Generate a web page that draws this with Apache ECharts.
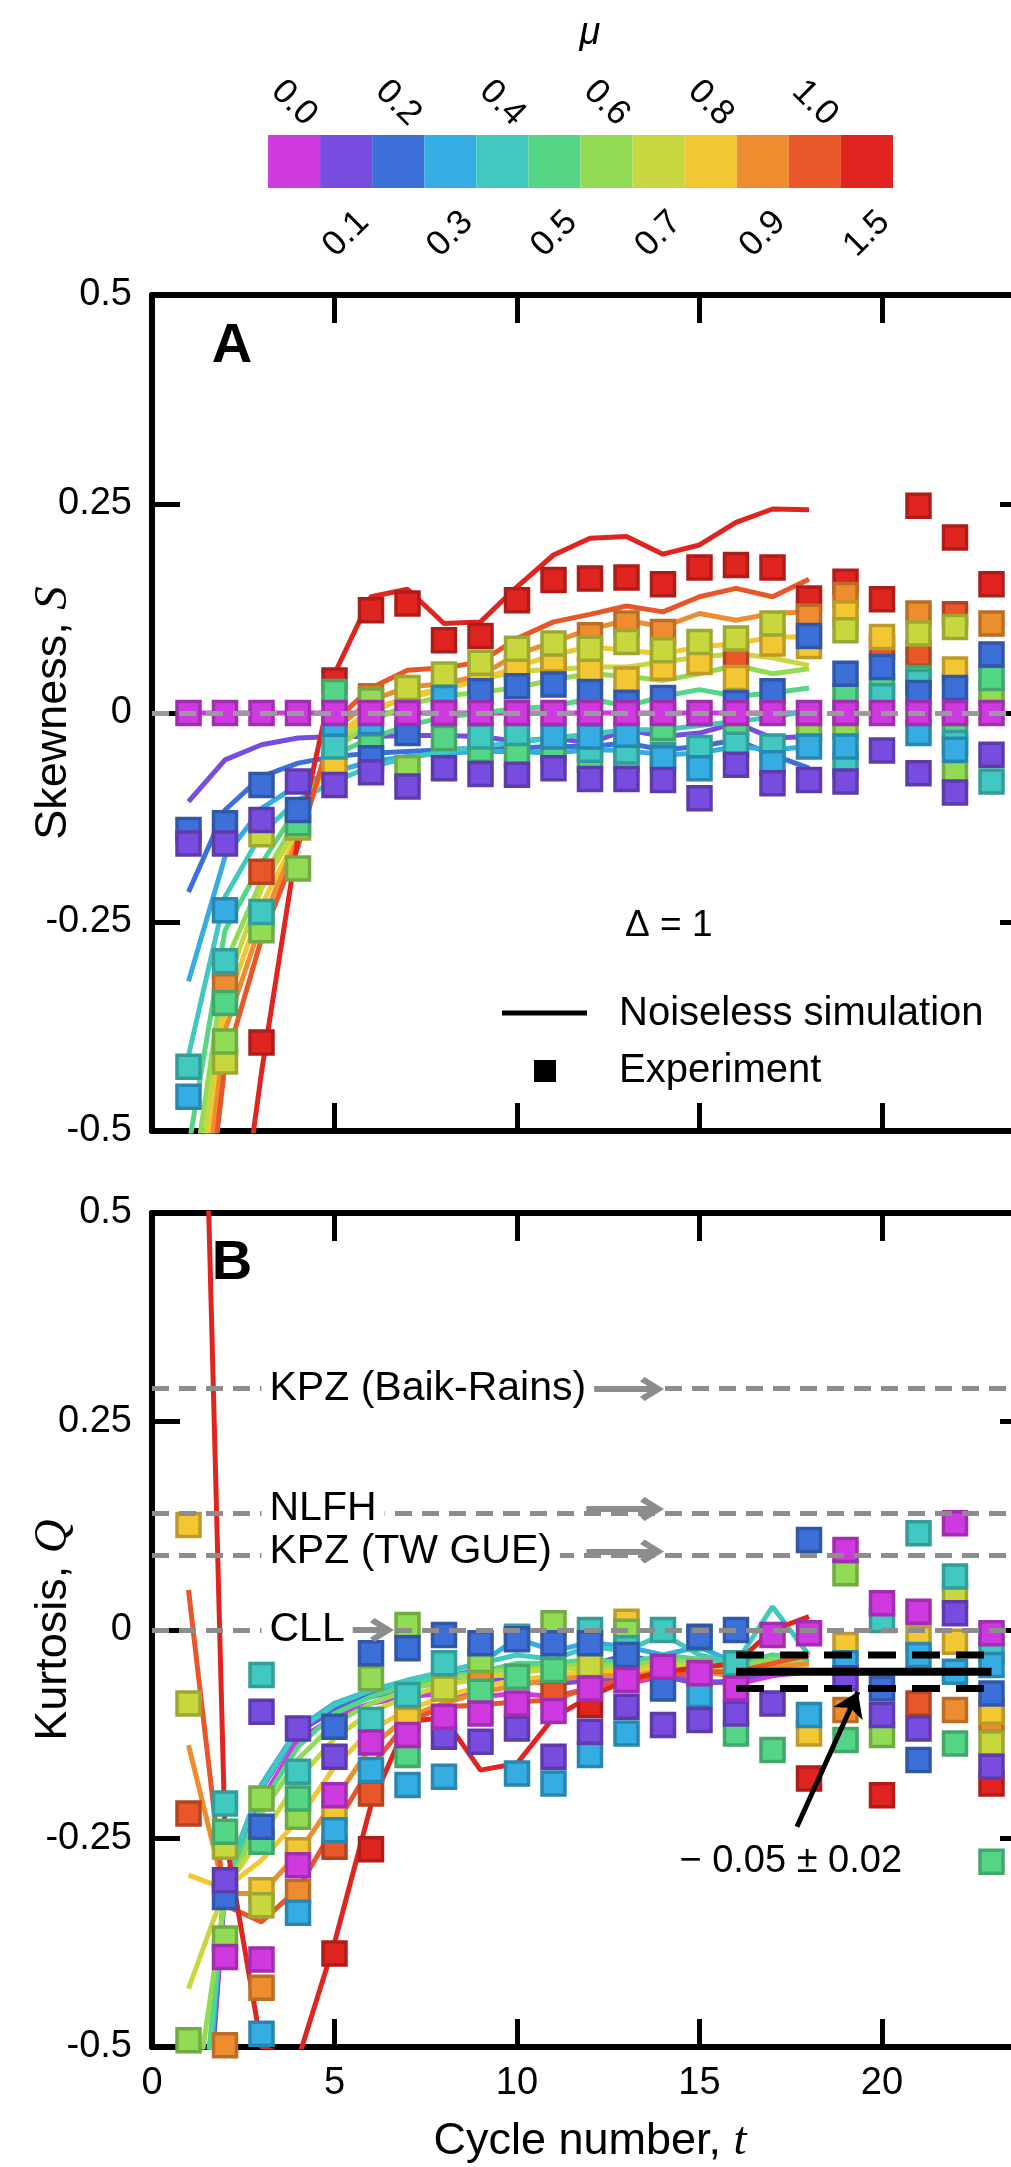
<!DOCTYPE html>
<html>
<head>
<meta charset="utf-8">
<script src="https://cdn.jsdelivr.net/npm/echarts/dist/echarts.min.js"></script>
<style>
  html, body { margin: 0; padding: 0; background: #fff; overflow: hidden; }
  #chart { width: 1011px; height: 2167px; }
</style>
</head>
<body>
<div id="chart"></div>
<script>
// cycle numbers
const cycles = [1,2,3,4,5,6,7,8,9,10,11,12,13,14,15,16,17,18,19,20,21,22,23];
const simCycles = [1,2,3,4,5,6,7,8,9,10,11,12,13,14,15,16,17,18];

// colour bar
const muLabels = ['0.0','0.1','0.2','0.3','0.4','0.5','0.6','0.7','0.8','0.9','1.0','1.5'];
const muColors = ['#CF3AE0','#774CDE','#3D6FD8','#35ACE2','#41C9C1','#55D686',
                  '#92DB55','#C8D73E','#F3C733','#EE8D30','#E8562A','#E02521'];

// A: skewness, noiseless simulation (t = 1..18)
const skewSim00 = [0,0,0,0,0,0,0,0,0,0,0,0,0,0,0,0,0,0];
const skewSim01 = [-0.106,-0.056,-0.038,-0.030,-0.028,-0.028,-0.027,-0.027,-0.028,-0.034,-0.030,-0.036,-0.020,-0.028,-0.024,-0.012,-0.030,-0.028];
const skewSim02 = [-0.214,-0.116,-0.076,-0.060,-0.052,-0.048,-0.046,-0.044,-0.042,-0.042,-0.040,-0.040,-0.036,-0.044,-0.040,-0.032,-0.050,-0.066];
const skewSim03 = [-0.321,-0.172,-0.114,-0.086,-0.070,-0.058,-0.052,-0.048,-0.046,-0.046,-0.048,-0.044,-0.045,-0.050,-0.048,-0.040,-0.044,-0.040];
const skewSim04 = [-0.410,-0.220,-0.144,-0.104,-0.082,-0.064,-0.054,-0.046,-0.040,-0.035,-0.030,-0.025,-0.020,-0.020,-0.015,-0.010,-0.005,0.003];
const skewSim05 = [-0.520,-0.260,-0.180,-0.112,-0.050,-0.030,-0.015,-0.005,0.000,0.005,0.008,0.017,0.008,0.020,0.028,0.020,0.024,0.030];
const skewSim06 = [-0.600,-0.300,-0.200,-0.125,-0.045,-0.010,0.010,0.020,0.025,0.030,0.040,0.047,0.044,0.039,0.047,0.057,0.047,0.053];
const skewSim07 = [-0.650,-0.330,-0.210,-0.135,-0.040,0.000,0.020,0.030,0.040,0.050,0.052,0.055,0.055,0.061,0.067,0.071,0.066,0.057];
const skewSim08 = [-0.700,-0.355,-0.230,-0.145,-0.030,0.005,0.018,0.028,0.040,0.055,0.070,0.079,0.075,0.071,0.079,0.083,0.091,0.091];
const skewSim09 = [-0.750,-0.380,-0.250,-0.150,-0.020,0.015,0.031,0.035,0.045,0.070,0.085,0.100,0.111,0.103,0.119,0.111,0.119,0.121];
const skewSim10 = [-0.800,-0.420,-0.270,-0.160,-0.010,0.030,0.051,0.054,0.061,0.089,0.109,0.118,0.128,0.121,0.139,0.149,0.139,0.160];
const skewSim11 = [-0.950,-0.750,-0.430,-0.150,0.047,0.139,0.148,0.107,0.109,0.151,0.189,0.209,0.211,0.190,0.201,0.228,0.244,0.243];

// A: skewness, experiment (t = 1..23)
const skewExp00 = [0,0,0,0,0,0,0,0,0,0,0,0,0,0,0,0,0,0,0,0,0,0,0];
const skewExp01 = [-0.156,-0.156,-0.128,-0.082,-0.086,-0.071,-0.088,-0.066,-0.073,-0.074,-0.066,-0.079,-0.079,-0.080,-0.102,-0.062,-0.084,-0.080,-0.082,-0.045,-0.072,-0.095,-0.050];
const skewExp02 = [-0.140,-0.132,-0.086,-0.116,null,-0.054,-0.024,null,0.026,0.032,0.034,0.025,0.012,0.018,null,0.012,0.026,0.092,0.047,0.055,0.024,0.030,0.070];
const skewExp03 = [-0.459,-0.236,null,null,-0.013,-0.011,null,0.018,null,null,-0.028,-0.028,-0.026,-0.054,-0.066,null,-0.060,-0.040,-0.040,null,-0.024,-0.044,null];
const skewExp04 = [-0.423,-0.297,-0.238,null,-0.040,null,null,null,-0.028,-0.024,null,-0.044,-0.046,-0.050,-0.042,-0.038,-0.040,null,-0.062,0.020,0.037,-0.036,-0.082];
const skewExp05 = [null,-0.347,null,-0.132,0.025,-0.040,null,-0.030,-0.044,-0.050,-0.044,-0.056,-0.056,-0.018,null,-0.020,null,null,0.020,0.032,0.042,-0.018,0.042];
const skewExp06 = [null,-0.393,-0.260,-0.186,null,0.015,-0.066,null,null,null,null,null,null,null,null,null,null,-0.018,-0.015,null,null,-0.072,0.024];
const skewExp07 = [null,-0.417,-0.145,-0.137,null,null,0.030,0.046,0.060,0.077,0.083,0.077,0.085,0.075,0.085,0.089,0.107,null,0.099,null,0.095,0.103,null];
const skewExp08 = [null,null,null,null,-0.062,null,null,null,0.040,0.054,0.064,0.052,0.040,0.054,0.061,0.042,0.083,0.080,0.119,0.091,null,0.052,null];
const skewExp09 = [null,-0.327,null,null,null,0.020,null,0.022,null,null,null,0.093,0.107,0.097,null,null,null,0.115,0.141,null,0.119,null,0.107];
const skewExp10 = [null,null,-0.190,null,null,null,null,null,null,null,0.057,null,null,null,null,0.067,null,null,null,0.079,0.071,0.118,null];
const skewExp11 = [null,null,-0.394,null,0.039,0.123,0.131,0.087,0.092,0.135,0.159,0.161,0.162,0.154,0.174,0.177,0.174,0.137,0.157,0.136,0.248,0.210,0.154];

// B: kurtosis, noiseless simulation (t = 1..18)
const kurtSim00 = [-0.900,-0.310,-0.204,-0.132,-0.104,-0.088,-0.080,-0.076,-0.080,-0.076,-0.080,-0.070,-0.065,-0.055,-0.060,-0.065,-0.055,-0.050];
const kurtSim01 = [-0.900,-0.300,-0.190,-0.122,-0.096,-0.080,-0.070,-0.062,-0.060,-0.060,-0.065,-0.060,-0.058,-0.055,-0.065,-0.060,-0.050,-0.050];
const kurtSim02 = [-0.850,-0.300,-0.188,-0.120,-0.092,-0.076,-0.066,-0.056,-0.048,-0.044,-0.046,-0.042,-0.030,-0.040,-0.035,-0.050,-0.040,-0.045];
const kurtSim03 = [-0.850,-0.300,-0.185,-0.118,-0.088,-0.072,-0.062,-0.050,-0.040,-0.010,-0.025,-0.015,-0.020,-0.030,-0.020,-0.040,-0.030,-0.035];
const kurtSim04 = [-0.800,-0.300,-0.188,-0.120,-0.090,-0.072,-0.060,-0.050,-0.040,-0.030,-0.035,-0.020,-0.025,-0.005,-0.030,-0.040,0.028,-0.030];
const kurtSim05 = [-0.750,-0.310,-0.210,-0.140,-0.100,-0.080,-0.066,-0.056,-0.050,-0.040,-0.040,-0.035,-0.040,-0.030,-0.035,-0.045,-0.030,-0.040];
const kurtSim06 = [-0.620,-0.320,-0.220,-0.155,-0.112,-0.088,-0.072,-0.060,-0.052,-0.046,-0.045,-0.040,-0.045,-0.035,-0.040,-0.045,-0.035,-0.040];
const kurtSim07 = [-0.430,-0.310,-0.248,-0.180,-0.130,-0.098,-0.080,-0.066,-0.058,-0.050,-0.048,-0.045,-0.050,-0.040,-0.045,-0.050,-0.040,-0.045];
const kurtSim08 = [-0.294,-0.310,-0.276,-0.228,-0.164,-0.120,-0.096,-0.080,-0.068,-0.060,-0.055,-0.050,-0.052,-0.045,-0.050,-0.055,-0.045,-0.045];
const kurtSim09 = [-0.138,-0.316,-0.316,-0.268,-0.204,-0.140,-0.104,-0.088,-0.075,-0.066,-0.060,-0.055,-0.055,-0.050,-0.050,-0.055,-0.045,-0.040];
const kurtSim10 = [0.048,-0.330,-0.350,-0.310,-0.236,-0.164,-0.110,-0.092,-0.090,-0.086,-0.084,-0.068,-0.060,-0.055,-0.050,-0.050,-0.040,-0.030];
const kurtSim11 = [1.430,-0.245,-0.500,-0.515,-0.375,-0.210,-0.110,-0.105,-0.168,-0.160,-0.105,-0.080,-0.060,-0.050,-0.045,-0.040,0.000,0.016];

// B: kurtosis, experiment (t = 1..23)
const kurtExp00 = [null,-0.392,-0.395,-0.282,-0.198,-0.135,-0.126,-0.104,-0.100,-0.088,-0.097,-0.070,-0.060,-0.044,-0.052,-0.070,-0.006,-0.004,0.096,0.032,0.022,0.128,-0.004];
const kurtExp01 = [null,-0.300,-0.098,-0.118,-0.152,null,null,-0.128,-0.134,-0.118,-0.152,-0.122,-0.092,-0.114,-0.108,-0.100,-0.088,null,-0.058,-0.102,-0.118,0.020,-0.164];
const kurtExp02 = [null,-0.320,-0.236,null,-0.116,-0.028,-0.022,-0.006,-0.016,-0.011,-0.016,-0.016,-0.030,-0.070,-0.008,0.000,null,0.108,null,-0.070,-0.156,null,-0.076];
const kurtExp03 = [null,null,-0.484,-0.339,-0.240,-0.168,-0.186,-0.176,null,-0.172,-0.184,-0.150,-0.124,null,-0.078,null,null,-0.102,-0.040,null,-0.030,-0.050,-0.042];
const kurtExp04 = [null,-0.208,-0.054,-0.170,null,-0.108,-0.078,-0.040,null,-0.008,null,0.000,-0.022,0.000,-0.010,-0.040,null,null,null,0.012,0.116,0.064,-0.024];
const kurtExp05 = [null,-0.242,-0.254,-0.202,null,null,-0.150,null,-0.074,-0.056,-0.048,null,null,null,null,-0.124,-0.144,null,-0.132,null,null,-0.136,-0.278];
const kurtExp06 = [-0.492,-0.370,-0.202,-0.224,null,-0.058,0.006,null,-0.036,null,0.008,null,-0.002,null,null,null,null,null,0.068,-0.126,null,null,null];
const kurtExp07 = [-0.088,-0.260,-0.330,null,null,null,null,-0.070,null,null,null,-0.042,null,null,null,null,null,null,null,null,null,0.042,-0.136];
const kurtExp08 = [0.126,null,-0.312,-0.264,-0.220,null,-0.108,null,null,null,null,null,0.010,null,-0.050,null,null,-0.124,-0.018,null,-0.010,-0.014,-0.098];
const kurtExp09 = [null,-0.498,-0.429,-0.314,null,null,-0.100,null,-0.052,null,null,null,null,null,null,null,null,null,-0.096,null,null,-0.096,-0.108];
const kurtExp10 = [-0.220,null,null,null,-0.260,-0.196,null,null,null,null,-0.076,null,null,null,null,null,null,null,null,null,-0.088,null,null];
const kurtExp11 = [null,null,null,null,-0.388,-0.263,null,null,null,null,null,-0.090,null,null,null,null,null,-0.178,null,-0.198,null,null,-0.184];

// reference kurtosis values (B)
const refNames = ['KPZ (Baik-Rains)', 'NLFH', 'KPZ (TW GUE)', 'CLL'];
const refValues = [0.289, 0.145, 0.094, 0];
const refArrowFrom = [11.9, 11.9, 11.9, 5.3];
const refArrowTo = [13.7, 13.7, 13.7, 6.3];

// fitted late-time kurtosis
const kurtMean = -0.05;
const kurtErr = 0.02;
const kurtWindow = [16, 23];
const kurtArrowTail = [17.67, -0.236];
const kurtArrowHead = [19.34, -0.074];

const skewSim = [skewSim00,skewSim01,skewSim02,skewSim03,skewSim04,skewSim05,skewSim06,skewSim07,skewSim08,skewSim09,skewSim10,skewSim11];
const skewExp = [skewExp00,skewExp01,skewExp02,skewExp03,skewExp04,skewExp05,skewExp06,skewExp07,skewExp08,skewExp09,skewExp10,skewExp11];
const kurtSim = [kurtSim00,kurtSim01,kurtSim02,kurtSim03,kurtSim04,kurtSim05,kurtSim06,kurtSim07,kurtSim08,kurtSim09,kurtSim10,kurtSim11];
const kurtExp = [kurtExp00,kurtExp01,kurtExp02,kurtExp03,kurtExp04,kurtExp05,kurtExp06,kurtExp07,kurtExp08,kurtExp09,kurtExp10,kurtExp11];

const FONT = '"Liberation Sans", Arial, sans-serif';
const TICK_FS = 38;

function darker(hex, f) {
  const n = parseInt(hex.slice(1), 16);
  const r = Math.round(((n >> 16) & 255) * f);
  const g = Math.round(((n >> 8) & 255) * f);
  const b = Math.round((n & 255) * f);
  return 'rgb(' + r + ',' + g + ',' + b + ')';
}

function pairs(xs, ys) {
  const out = [];
  ys.forEach((v, j) => { if (v !== null) out.push([xs[j], v]); });
  return out;
}

function xFrame(grid, position, labels) {
  return {
    type: 'value', gridIndex: grid, position: position, min: 0, max: 24, interval: 5,
    axisLine: {show: true, onZero: false, lineStyle: {color: '#000', width: 6}},
    axisTick: {show: true, inside: true, length: 28, lineStyle: {color: '#000', width: 5}},
    axisLabel: {show: labels, margin: 18, fontSize: TICK_FS, color: '#000', fontFamily: FONT,
      formatter: v => (v % 5 === 0 ? String(v) : '')},
    splitLine: {show: false}
  };
}

function yFrame(grid, position, labels) {
  return {
    type: 'value', gridIndex: grid, position: position, min: -0.5, max: 0.5, interval: 0.25,
    axisLine: {show: true, onZero: false, lineStyle: {color: '#000', width: 6}},
    axisTick: {show: true, inside: true, length: 28, lineStyle: {color: '#000', width: 5}},
    axisLabel: {show: labels, margin: 20, fontSize: TICK_FS, color: '#000', fontFamily: FONT},
    splitLine: {show: false}
  };
}

const nameStyle = {
  fontSize: 45, color: '#000', fontFamily: FONT,
  rich: {i: {fontSize: 47, fontStyle: 'italic', fontFamily: '"Liberation Serif", serif', color: '#000'}}
};

const xAxes = [
  // colour bar, bottom labels (odd)
  {type: 'category', gridIndex: 0, position: 'bottom', data: muLabels,
    axisLine: {show: false}, axisTick: {show: false},
    axisLabel: {interval: 0, rotate: 45, align: 'center', verticalAlign: 'middle', margin: 46,
      fontSize: 35, color: '#000', fontFamily: FONT,
      formatter: (v, idx) => (idx % 2 === 1 ? v : '')}},
  // colour bar, top labels (even)
  {type: 'category', gridIndex: 0, position: 'top', data: muLabels,
    axisLine: {show: false}, axisTick: {show: false},
    axisLabel: {interval: 0, rotate: 45, align: 'center', verticalAlign: 'middle', margin: 32,
      fontSize: 35, color: '#000', fontFamily: FONT,
      formatter: (v, idx) => (idx % 2 === 0 ? v : '')}},
  xFrame(1, 'bottom', false),
  xFrame(1, 'top', false),
  Object.assign(xFrame(2, 'bottom', true), {
    name: 'Cycle number, {i|t}', nameLocation: 'middle', nameGap: 71, nameMoveOverlap: false,
    nameTextStyle: nameStyle
  }),
  xFrame(2, 'top', false)
];

const yAxes = [
  {type: 'value', gridIndex: 0, min: 0, max: 1, show: false},
  Object.assign(yFrame(1, 'left', true), {
    name: 'Skewness, {i|S}', nameLocation: 'middle', nameRotate: 90, nameGap: 75, nameMoveOverlap: false,
    nameTextStyle: nameStyle
  }),
  yFrame(1, 'right', false),
  Object.assign(yFrame(2, 'left', true), {
    name: 'Kurtosis, {i|Q}', nameLocation: 'middle', nameRotate: 90, nameGap: 75, nameMoveOverlap: false,
    nameTextStyle: nameStyle
  }),
  yFrame(2, 'right', false)
];

const series = [];

// colour bar cells
series.push({
  type: 'bar', xAxisIndex: 0, yAxisIndex: 0, barCategoryGap: '0%', silent: true,
  data: muLabels.map((m, i) => ({value: 1, itemStyle: {color: muColors[i]}}))
});

// grey reference lines
series.push({
  type: 'line', xAxisIndex: 2, yAxisIndex: 1, data: [], z: 1, silent: true,
  markLine: {symbol: 'none', silent: true, animation: false, label: {show: false},
    lineStyle: {color: '#9a9a9a', width: 5, type: [17, 10]},
    data: [{yAxis: 0}]}
});
series.push({
  type: 'line', xAxisIndex: 4, yAxisIndex: 3, data: [], z: 1, silent: true,
  markLine: {symbol: 'none', silent: true, animation: false, label: {show: false},
    lineStyle: {color: '#8c8c8c', width: 5, type: [17, 10]},
    data: refValues.map(v => ({yAxis: v}))}
});
series.push({
  type: 'line', xAxisIndex: 4, yAxisIndex: 3, data: [], z: 1, silent: true,
  markLine: {symbol: ['none', 'path://M5,0 L10,7 L8.2,8.6 L5,4.2 L1.8,8.6 L0,7 Z'], symbolSize: 24,
    silent: true, animation: false, label: {show: false},
    lineStyle: {color: '#8c8c8c', width: 6, type: 'solid'},
    data: refValues.map((v, k) => [{coord: [refArrowFrom[k], v]}, {coord: [refArrowTo[k], v]}])}
});

// simulation lines
muColors.forEach((c, i) => {
  series.push({type: 'line', xAxisIndex: 2, yAxisIndex: 1, data: pairs(simCycles, skewSim[i]),
    symbol: 'none', z: 2, lineStyle: {color: c, width: 5}});
  series.push({type: 'line', xAxisIndex: 4, yAxisIndex: 3, data: pairs(simCycles, kurtSim[i]),
    symbol: 'none', z: 2, lineStyle: {color: c, width: 5}});
});

// experiment squares, mu = 1.5 first so mu = 0 ends on top
for (let i = muColors.length - 1; i >= 0; i--) {
  const sq = {color: muColors[i], borderColor: darker(muColors[i], 0.78), borderWidth: 3.5, opacity: 1};
  series.push({type: 'scatter', xAxisIndex: 2, yAxisIndex: 1, data: pairs(cycles, skewExp[i]),
    symbol: 'rect', symbolSize: 23, z: 3, itemStyle: sq});
  series.push({type: 'scatter', xAxisIndex: 4, yAxisIndex: 3, data: pairs(cycles, kurtExp[i]),
    symbol: 'rect', symbolSize: 23, z: 3, itemStyle: sq});
}

// -0.05 +/- 0.02 band
series.push({type: 'line', xAxisIndex: 4, yAxisIndex: 3, z: 5, symbol: 'none',
  data: [[kurtWindow[0], kurtMean], [kurtWindow[1], kurtMean]],
  lineStyle: {color: '#000', width: 8},
  markLine: {symbol: ['none', 'arrow'], symbolSize: 24, silent: true, animation: false, label: {show: false},
    lineStyle: {color: '#000', width: 5, type: 'solid'},
    data: [[{coord: kurtArrowTail}, {coord: kurtArrowHead}]]}});
[kurtMean + kurtErr, kurtMean - kurtErr].forEach(v => {
  series.push({type: 'line', xAxisIndex: 4, yAxisIndex: 3, z: 5, symbol: 'none',
    data: [[kurtWindow[0], v], [kurtWindow[1], v]],
    lineStyle: {color: '#000', width: 7, type: [28, 16]}});
});

const option = {
  animation: false,
  backgroundColor: '#fff',
  textStyle: {fontFamily: FONT},
  grid: [
    {left: 268, top: 135, width: 625, height: 53, containLabel: false, outerBoundsMode: 'none'},
    {left: 152, top: 295, width: 876, height: 836, containLabel: false, outerBoundsMode: 'none'},
    {left: 152, top: 1213, width: 876, height: 834, containLabel: false, outerBoundsMode: 'none'}
  ],
  xAxis: xAxes,
  yAxis: yAxes,
  series: series
};

const chart = echarts.init(document.getElementById('chart'));
chart.setOption(option);

// texts placed against the data scale of panel B
const toB = (t, v) => chart.convertToPixel({xAxisIndex: 4, yAxisIndex: 3}, [t, v]);
const labelLeft = toB(3, 0)[0];
const graphics = [
  {type: 'text', z: 10, style: {text: 'μ', x: 590, y: 33, font: 'italic 38px ' + FONT, fill: '#000', textAlign: 'center', textVerticalAlign: 'middle'}},
  {type: 'text', z: 10, style: {text: 'A', x: 232, y: 347, font: 'bold 56px ' + FONT, fill: '#000', textAlign: 'center', textVerticalAlign: 'middle'}},
  {type: 'text', z: 10, style: {text: 'B', x: 232, y: 1264, font: 'bold 56px ' + FONT, fill: '#000', textAlign: 'center', textVerticalAlign: 'middle'}},
  {type: 'text', z: 10, style: {text: 'Δ = 1', x: 625, y: 926, font: '37px ' + FONT, fill: '#000', textAlign: 'left', textVerticalAlign: 'middle'}},
  {type: 'line', z: 10, shape: {x1: 502, y1: 1013, x2: 587, y2: 1013}, style: {stroke: '#000', lineWidth: 5}},
  {type: 'rect', z: 10, shape: {x: 534, y: 1060, width: 22, height: 22}, style: {fill: '#000'}},
  {type: 'text', z: 10, style: {text: 'Noiseless simulation', x: 619, y: 1014, font: '40px ' + FONT, fill: '#000', textAlign: 'left', textVerticalAlign: 'middle'}},
  {type: 'text', z: 10, style: {text: 'Experiment', x: 619, y: 1071, font: '40px ' + FONT, fill: '#000', textAlign: 'left', textVerticalAlign: 'middle'}}
];
refNames.forEach((name, k) => {
  const y = toB(0, refValues[k])[1];
  graphics.push({type: 'text', z: 10, style: {text: name, x: labelLeft, y: y, font: '41px ' + FONT, fill: '#000',
    textAlign: 'left', textVerticalAlign: 'middle', backgroundColor: '#fff', padding: [0, 8, 0, 8]}});
});
const bandLabel = toB(17.5, -0.278);
graphics.push({type: 'text', z: 10, style: {text: '− 0.05 ± 0.02', x: bandLabel[0], y: bandLabel[1],
  font: '38px ' + FONT, fill: '#000', textAlign: 'center', textVerticalAlign: 'middle'}});
chart.setOption({graphic: graphics});
</script>
</body>
</html>
